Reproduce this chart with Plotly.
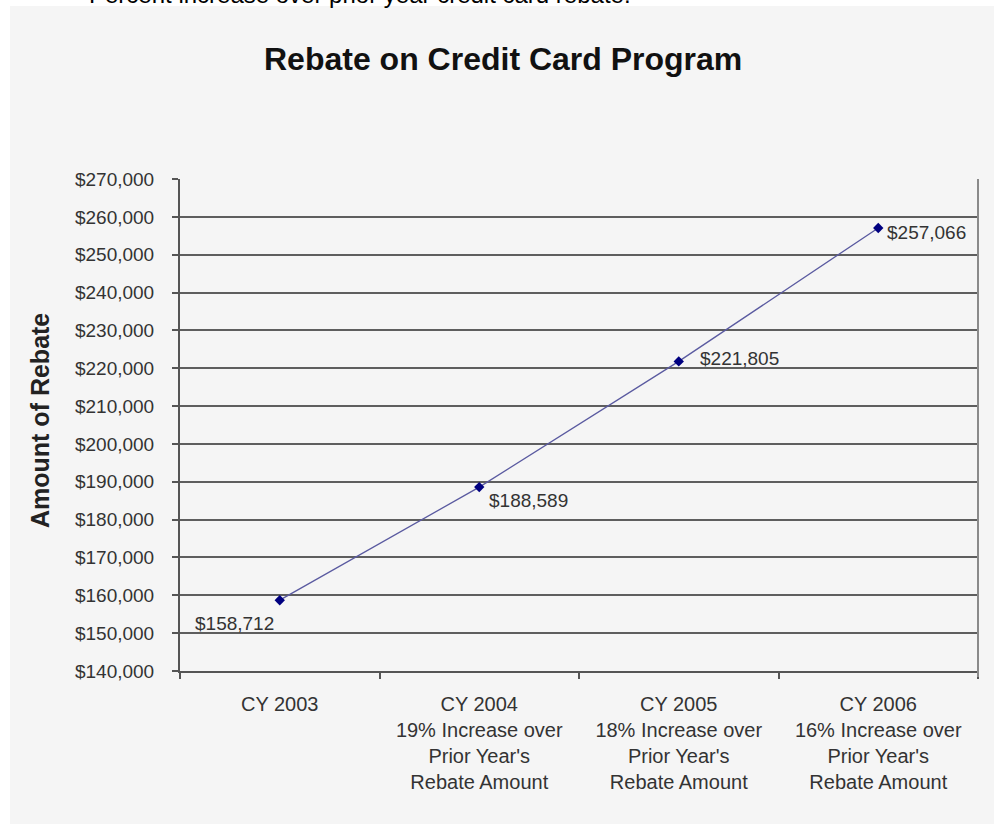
import plotly.graph_objects as go

# Data
years = ["CY 2003", "CY 2004", "CY 2005", "CY 2006"]
notes = ["", "19% Increase over<br>Prior Year's<br>Rebate Amount",
         "18% Increase over<br>Prior Year's<br>Rebate Amount",
         "16% Increase over<br>Prior Year's<br>Rebate Amount"]
rebates = [158712, 188589, 221805, 257066]

categories = [y if not n else f"{y}<br>{n}" for y, n in zip(years, notes)]

# value-label placement per point: (anchor, x offset px, y offset px)
label_offsets = [("right", -4, -23), ("left", 8, -13), ("left", 19, 3), ("left", 7, -5)]

W, H = 994, 825
ML, MR, MT, MB = 180, 16, 179, 154
PW, PH = W - ML - MR, H - MT - MB

def px_x(x):
    return (x - ML) / PW

def px_y(y):
    return (H - MB - y) / PH

FONT = "Arial, Liberation Sans, sans-serif"
PANEL = "#f5f5f5"

fig = go.Figure()
fig.add_trace(go.Scatter(
    x=categories, y=rebates,
    mode="lines+markers",
    line=dict(color="#5a5aa0", width=1.3),
    marker=dict(symbol="diamond", size=8, color="#000080"),
    showlegend=False,
    hoverinfo="skip",
))

annotations = [
    dict(text="<b>Rebate on Credit Card Program</b>", xref="paper", yref="paper",
         x=px_x(503), y=px_y(59), xanchor="center", yanchor="middle",
         showarrow=False, font=dict(family=FONT, size=32, color="#111111")),
    dict(text="<b>Amount of Rebate</b>", xref="paper", yref="paper",
         x=px_x(40), y=px_y(421), xanchor="center", yanchor="middle",
         textangle=-90, showarrow=False,
         font=dict(family=FONT, size=25, color="#222222")),
    dict(text="Percent increase over prior year credit card rebate.",
         xref="paper", yref="paper",
         x=px_x(87), y=px_y(-6), xanchor="left", yanchor="middle",
         showarrow=False, font=dict(family=FONT, size=24, color="#000000")),
]

# value labels next to each point
for cat, val, (anchor, dx, dy) in zip(categories, rebates, label_offsets):
    annotations.append(dict(
        x=cat, y=val, xref="x", yref="y", text=f"${val:,}",
        showarrow=False, xanchor=anchor, yanchor="middle",
        xshift=dx, yshift=dy,
        font=dict(family=FONT, size=19, color="#333333"),
    ))

fig.update_layout(
    width=W, height=H,
    margin=dict(l=ML, r=MR, t=MT, b=MB),
    paper_bgcolor="white",
    plot_bgcolor="#f7f7f7",
    font=dict(family=FONT, color="#333333"),
    xaxis=dict(
        type="category",
        range=[-0.5, 3.5],
        tickson="boundaries",
        ticks="outside", ticklen=6, tickwidth=2, tickcolor="#555555",
        showline=True, linecolor="#555555", linewidth=2,
        showgrid=False,
        tickfont=dict(family=FONT, size=20, color="#333333"),
        ticklabelstandoff=14,
    ),
    yaxis=dict(
        range=[140000, 270000],
        dtick=10000,
        tickprefix="$", tickformat=",d",
        ticks="outside", ticklen=6, tickwidth=2, tickcolor="#555555",
        showline=True, linecolor="#555555", linewidth=2,
        showgrid=True, gridcolor="#5e5e5e", gridwidth=2,
        zeroline=False,
        tickfont=dict(family=FONT, size=19, color="#333333"),
        ticklabelstandoff=14,
    ),
    shapes=[
        # light grey chart panel
        dict(type="rect", xref="paper", yref="paper", layer="below",
             x0=px_x(10), x1=px_x(W + 2), y0=px_y(824), y1=px_y(6),
             fillcolor=PANEL, line=dict(width=0)),
        # right border of the plot area
        dict(type="line", xref="paper", yref="paper",
             x0=1, x1=1, y0=px_y(H - MB + 6), y1=1,
             line=dict(color="#8a8a8a", width=2)),
    ],
    annotations=annotations,
)

fig.write_html("out.html")
